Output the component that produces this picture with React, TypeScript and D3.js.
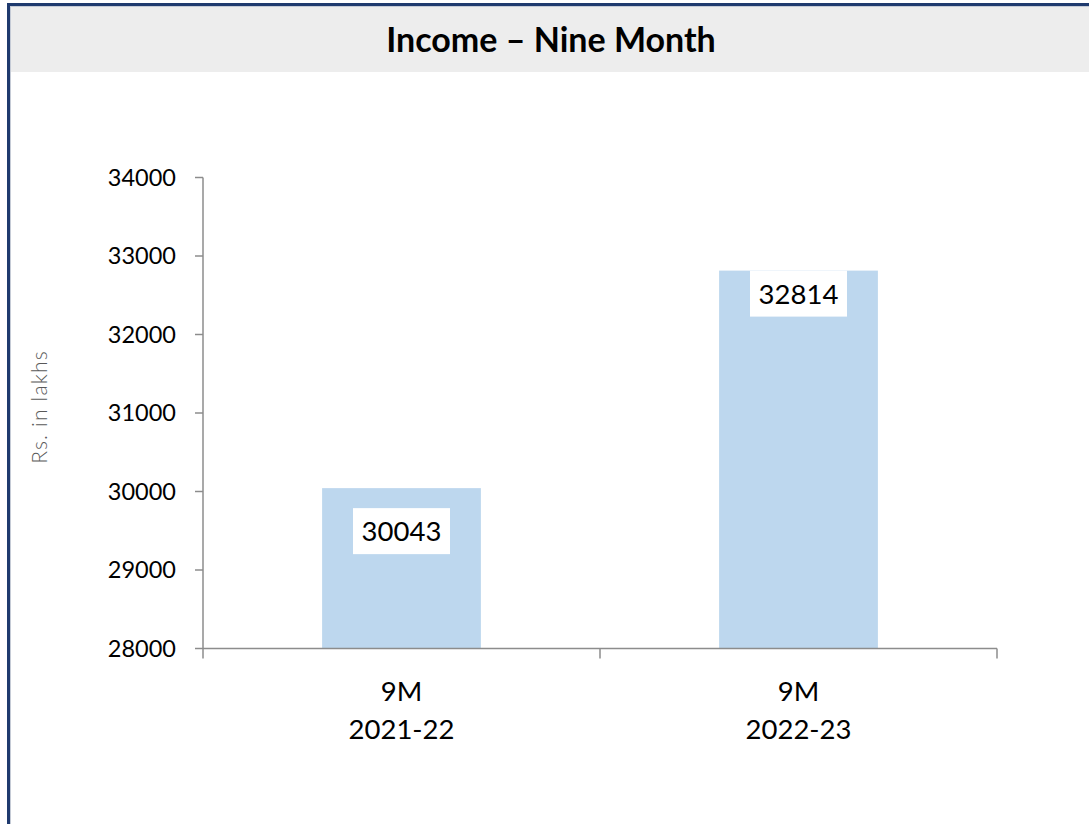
import React from "react";
import * as d3 from "d3";

const categories: string[][] = [["9M", "2021-22"], ["9M", "2022-23"]];
const values: number[] = [30043, 32814];
const yTicks: number[] = [28000, 29000, 30000, 31000, 32000, 33000, 34000];
const title = "Income – Nine Month";
const yTitle = "Rs. in lakhs";

const W = 1089;
const H = 824;
const FONT = "Lato, 'Open Sans', sans-serif";
const labelOffsets = [20, 0];

export default function App() {
  const x = d3.scaleBand<number>().domain(values.map((_, i) => i)).range([203, 997]).padding(0);
  const y = d3.scaleLinear().domain([28000, 34000]).range([648.5, 177.5]);
  const barW = x.bandwidth() * 0.4;
  const axisColor = "#8c8c8c";

  return (
    <svg width={W} height={H} style={{ position: "absolute", left: 0, top: 0, display: "block", background: "#fff" }}>
      <rect x={0} y={0} width={W} height={H} fill="#fff" />
      {/* title band */}
      <rect x={11} y={7} width={W - 11} height={65} fill="#ededed" />
      {/* frame */}
      <rect x={8.5} y={4.5} width={1300} height={1300} fill="none" stroke="#1f3a6e" strokeWidth={3} />
      <rect x={10.5} y={6.5} width={1300} height={1300} fill="none" stroke="#c5cbd6" strokeWidth={1} />
      <text x={551} y={52} textAnchor="middle" fontFamily={FONT} fontWeight={700} fontSize={34} fill="#000">
        {title}
      </text>

      {/* bars */}
      {values.map((v, i) => (
        <rect
          key={i}
          x={(x(i) as number) + (x.bandwidth() - barW) / 2}
          y={y(v)}
          width={barW}
          height={y(28000) - y(v)}
          fill="#bdd7ee"
        />
      ))}

      {/* y axis */}
      <line x1={203} x2={203} y1={y(34000)} y2={y(28000)} stroke={axisColor} strokeWidth={1.5} />
      {yTicks.map((t) => (
        <g key={t}>
          <line x1={195} x2={203} y1={y(t)} y2={y(t)} stroke={axisColor} strokeWidth={1.5} />
          <text x={176} y={y(t)} dy="0.36em" textAnchor="end" fontFamily={FONT} fontSize={23.5} fill="#000">
            {t}
          </text>
        </g>
      ))}

      {/* x axis */}
      <line x1={203} x2={997} y1={y(28000)} y2={y(28000)} stroke={axisColor} strokeWidth={1.5} />
      {[...x.domain(), values.length].map((i) => {
        const xx = i < values.length ? (x(i) as number) : 997;
        return <line key={i} x1={xx} x2={xx} y1={y(28000)} y2={y(28000) + 10} stroke={axisColor} strokeWidth={1.5} />;
      })}
      {categories.map((c, i) => (
        <text key={i} x={(x(i) as number) + x.bandwidth() / 2} textAnchor="middle" fontFamily={FONT} fontSize={27.5} fill="#000">
          <tspan x={(x(i) as number) + x.bandwidth() / 2} y={701}>{c[0]}</tspan>
          <tspan x={(x(i) as number) + x.bandwidth() / 2} y={739}>{c[1]}</tspan>
        </text>
      ))}

      {/* data labels */}
      {values.map((v, i) => {
        const cx = (x(i) as number) + x.bandwidth() / 2;
        const top = y(v) + labelOffsets[i];
        return (
          <g key={i}>
            <rect x={cx - 48.5} y={top} width={97} height={46} fill="#fff" />
            <text x={cx} y={top + 23} dy="0.36em" textAnchor="middle" fontFamily={FONT} fontSize={27.5} fill="#000">
              {v}
            </text>
          </g>
        );
      })}

      {/* y title */}
      <text
        transform={`translate(47,407) rotate(-90)`}
        textAnchor="middle"
        fontFamily={FONT}
        fontSize={21}
        fontWeight={300}
        letterSpacing={1.2}
        fill="#595959"
      >
        {yTitle}
      </text>
    </svg>
  );
}
